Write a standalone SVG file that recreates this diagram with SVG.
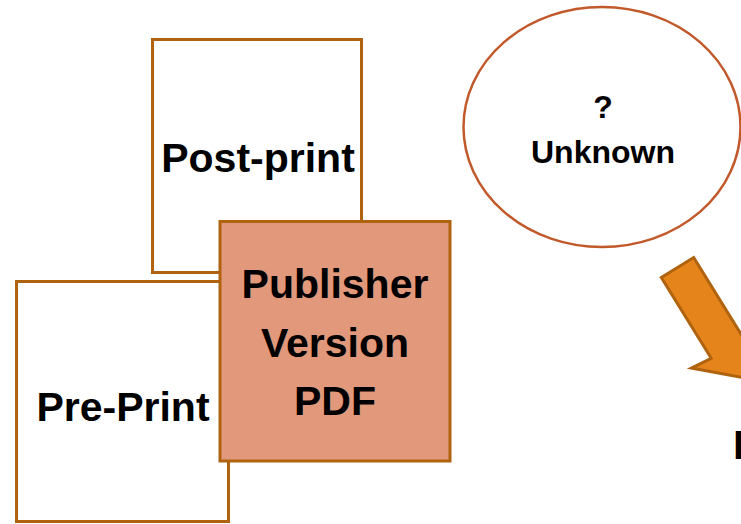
<svg xmlns="http://www.w3.org/2000/svg" width="741" height="524" viewBox="0 0 741 524">
<style>
.box{fill:#ffffff;stroke:#B0630F;stroke-width:3}
.pub{fill:#E2987A;stroke:#B0630F;stroke-width:3}
.lbl{font-family:"Liberation Sans",Arial,sans-serif;font-weight:bold;font-size:41px;fill:#000;text-anchor:middle}
.sm{font-size:32px}
</style>
<rect width="741" height="524" fill="#ffffff"/>
<g id="post-print">
<rect class="box" x="152.5" y="39.5" width="209" height="233"/>
<text class="lbl" x="258" y="172">Post-print</text>
</g>
<g id="pre-print">
<rect class="box" x="16.5" y="281.5" width="212" height="240"/>
<text class="lbl" x="123" y="421">Pre-Print</text>
</g>
<g id="publisher">
<rect class="pub" x="220" y="221.5" width="230" height="239.5"/>
<text class="lbl" x="335" y="298">Publisher</text>
<text class="lbl" x="335" y="356.5">Version</text>
<text class="lbl" x="335" y="415">PDF</text>
</g>
<g id="unknown">
<ellipse cx="602" cy="127" rx="138.5" ry="120" fill="#ffffff" stroke="#C2592B" stroke-width="2.5"/>
<text class="lbl sm" x="603" y="118">?</text>
<text class="lbl sm" x="603" y="163">Unknown</text>
</g>
<g id="connectors">
<polygon points="661.3,277.5 693.7,257.5 743.6,338.3 761.2,325.1 745.8,378.1 691.4,368.1 711.2,358.3" fill="#E4841A" stroke="#B0630F" stroke-width="3" stroke-linejoin="miter"/>
</g>
<g id="partial-node">
<text class="lbl" x="733" y="459" style="text-anchor:start">I</text>
</g>
</svg>
